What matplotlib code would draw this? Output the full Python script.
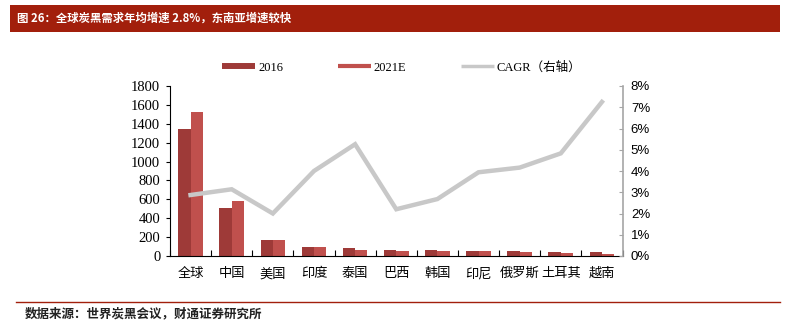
import matplotlib.pyplot as plt
import numpy as np
from matplotlib.lines import Line2D

plt.rcParams['font.family'] = ['Noto Sans CJK SC', 'DejaVu Sans']

# данные
countries = ['全球', '中国', '美国', '印度', '泰国', '巴西', '韩国', '印尼', '俄罗斯', '土耳其', '越南']
demand_2016 = [1350, 510, 165, 100, 80, 68, 68, 55, 55, 42, 42]
demand_2021 = [1520, 580, 165, 100, 68, 55, 55, 55, 42, 28, 20]
cagr = [2.87, 3.14, 2.0, 4.0, 5.26, 2.2, 2.68, 3.94, 4.16, 4.83, 7.25]

c2016 = '#9E3A38'
c2021 = '#C0504D'
cline = '#C8C8C8'
cred = '#A21F0C'

fig = plt.figure(figsize=(7.87, 3.25), dpi=100)
ax = fig.add_axes([170/787, 1-256/325, 452.5/787, 170/325])

x = np.arange(len(countries))
w = 0.3
ax.bar(x - w/2, demand_2016, w, color=c2016, zorder=2)
ax.bar(x + w/2, demand_2021, w, color=c2021, zorder=2)
ax.set_xlim(-0.5, len(countries) - 0.5)
ax.set_ylim(0, 1800)
ax.set_yticks(np.arange(0, 1801, 200))
ax.set_yticklabels([str(v) for v in range(0, 1801, 200)], family='Liberation Serif', fontsize=10.5)
ax.tick_params(axis='y', direction='out', length=3, width=0.8, pad=4)

# деления между категориями, подписи в центрах
ax.set_xticks(np.arange(-0.5, len(countries), 1))
ax.set_xticklabels([])
ax.set_xticks(x, minor=True)
ax.set_xticklabels(countries, minor=True, fontsize=9.5)
ax.tick_params(axis='x', which='major', direction='in', length=4, width=0.8)
ax.tick_params(axis='x', which='minor', length=0, pad=8)

ax.spines['top'].set_visible(False)
ax.spines['right'].set_visible(False)
ax.spines['left'].set_linewidth(0.8)
ax.spines['bottom'].set_linewidth(0.8)

# правая ось
ax2 = ax.twinx()
ax2.plot(x, cagr, color=cline, linewidth=3.2, solid_joinstyle='miter', zorder=3)
ax2.set_ylim(0, 8)
ax2.set_yticks(np.arange(0, 9, 1))
ax2.set_yticklabels([str(v) + '%' for v in range(0, 9)], family='Liberation Sans', fontsize=9.5)
ax2.tick_params(axis='y', direction='in', length=3, width=0.8, color='#A6A6A6', pad=6)
ax2.spines['top'].set_visible(False)
ax2.spines['left'].set_visible(False)
ax2.spines['bottom'].set_visible(False)
ax2.spines['right'].set_color('#A6A6A6')
ax2.spines['right'].set_linewidth(1.2)

# легенда
handles = [Line2D([], [], color=c2016, linewidth=4.3, solid_capstyle='butt'),
           Line2D([], [], color=c2021, linewidth=3, solid_capstyle='butt'),
           Line2D([], [], color=cline, linewidth=2.5, solid_capstyle='butt')]
leg = fig.legend(handles, ['2016', '2021E', 'CAGR（右轴）'], loc='center', bbox_to_anchor=(402/787, 1-67.5/325),
                 ncol=3, frameon=False, handlelength=2.6, handletextpad=0.25, columnspacing=4.4,
                 prop={'family': ['Liberation Serif', 'Noto Sans CJK SC'], 'size': 9})

# заголовок
fig.patches.append(plt.Rectangle((10/787, 1-32/325), 770/787, 27/325, transform=fig.transFigure,
                                 facecolor=cred, edgecolor='none'))
fig.text(17/787, 1-18.5/325, '图 26：全球炭黑需求年均增速 2.8%，东南亚增速较快', color='white',
         fontsize=8.2, fontweight='bold', va='center', ha='left')

# источник
fig.add_artist(Line2D([16/787, 780/787], [1-302/325, 1-302/325], transform=fig.transFigure, color=cred, linewidth=1))
fig.text(25/787, 1-313.5/325, '数据来源：世界炭黑会议，财通证券研究所', fontsize=9, fontweight='bold',
         va='center', ha='left', color='#222222')

plt.savefig('out.png', dpi=100)
